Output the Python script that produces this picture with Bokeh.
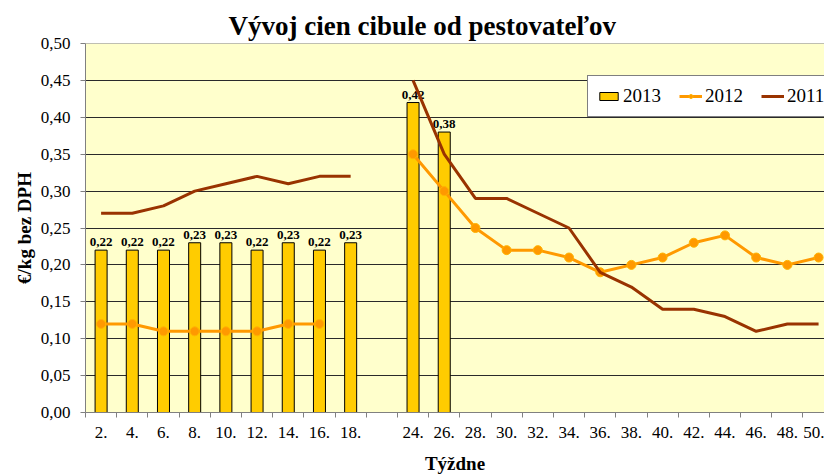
import numpy as np
from bokeh.plotting import figure
from bokeh.models import (ColumnDataSource, Range1d, FixedTicker, CustomJSTickFormatter,
                          Legend, LegendItem, Span)
from bokeh.embed import file_html
from bokeh.resources import INLINE
from bokeh.core.properties import value

# ---- data ----
weeks = ["2.", "4.", "6.", "8.", "10.", "12.", "14.", "16.", "18.", "",
         "24.", "26.", "28.", "30.", "32.", "34.", "36.", "38.", "40.", "42.",
         "44.", "46.", "48.", "50."]
y2013 = [0.22, 0.22, 0.22, 0.23, 0.23, 0.22, 0.23, 0.22, 0.23, None,
         0.42, 0.38, None, None, None, None, None, None, None, None,
         None, None, None, None]
y2012 = [0.12, 0.12, 0.11, 0.11, 0.11, 0.11, 0.12, 0.12, None, None,
         0.35, 0.30, 0.25, 0.22, 0.22, 0.21, 0.19, 0.20, 0.21, 0.23,
         0.24, 0.21, 0.20, 0.21]
y2011 = [0.27, 0.27, 0.28, 0.30, 0.31, 0.32, 0.31, 0.32, 0.32, None,
         0.45, 0.35, 0.29, 0.29, 0.27, 0.25, 0.19, 0.17, 0.14, 0.14,
         0.13, 0.11, 0.12, 0.12]
y_ticks = [0.00, 0.05, 0.10, 0.15, 0.20, 0.25, 0.30, 0.35, 0.40, 0.45, 0.50]

title_text = "Vývoj cien cibule od pestovateľov"
y_title = "€/kg bez DPH"
x_title = "Týždne"

SERIF = "Liberation Serif"

# ---- derived ----
pos = np.arange(len(weeks)) + 0.5
to_arr = lambda a: np.array([np.nan if v is None else v for v in a], dtype=float)

bar_idx = [i for i, v in enumerate(y2013) if v is not None]
bar_src = ColumnDataSource(dict(
    x=[pos[i] for i in bar_idx],
    top=[y2013[i] for i in bar_idx],
    lbl=[f"{y2013[i]:.2f}".replace(".", ",") for i in bar_idx],
))
src12 = ColumnDataSource(dict(x=pos, y=to_arr(y2012)))
src11 = ColumnDataSource(dict(x=pos, y=to_arr(y2011)))

p = figure(width=824, height=476,
           x_range=Range1d(0, 23.69), y_range=Range1d(0, 0.5),
           output_backend="svg", toolbar_location=None,
           min_border_left=85, min_border_right=0,
           min_border_top=43, min_border_bottom=64,
           background_fill_color="#FFFFCC", border_fill_color="white",
           outline_line_color=None)

p.title.text = title_text
p.title.text_font = SERIF
p.title.text_font_style = "bold"
p.title.text_font_size = "27px"
p.title.text_color = "black"
p.title.align = "left"
p.title.offset = 143
p.title.standoff = 5

bars = p.vbar(x="x", top="top", width=0.385, source=bar_src,
              fill_color="#FFCC00", line_color="black", line_width=1)
p.text(x="x", y="top", text="lbl", source=bar_src, text_align="center",
       text_baseline="bottom", y_offset=-4, text_font=value(SERIF),
       text_font_style="bold", text_font_size="13px", text_color="black")

l12 = p.line(x="x", y="y", source=src12, line_color="#FF9900", line_width=3)
s12 = p.scatter(x="x", y="y", source=src12, size=9, fill_color="#FF9900",
                line_color="#FFB300", line_width=1)
l11 = p.line(x="x", y="y", source=src11, line_color="#993300", line_width=3)

# ---- axes ----
yax = p.yaxis[0]
yax.ticker = FixedTicker(ticks=y_ticks)
yax.formatter = CustomJSTickFormatter(code="return tick.toFixed(2).replace('.', ',');")
yax.axis_line_color = "#808080"
yax.major_tick_line_color = "#808080"
yax.major_tick_out = 5
yax.major_tick_in = 0
yax.minor_tick_line_color = None
yax.major_label_standoff = 10
yax.major_label_text_font = SERIF
yax.major_label_text_font_size = "17px"
yax.major_label_text_color = "black"
yax.axis_label = y_title
yax.axis_label_text_font = SERIF
yax.axis_label_text_font_style = "bold"
yax.axis_label_text_font_size = "19px"
yax.axis_label_text_color = "black"
yax.axis_label_standoff = 3

xax = p.xaxis[0]
xax.ticker = FixedTicker(ticks=list(pos), minor_ticks=list(range(len(weeks) + 1)))
xax.formatter = CustomJSTickFormatter(args=dict(labels=weeks),
                                      code="return labels[Math.floor(tick)];")
xax.axis_line_color = "#808080"
xax.major_tick_line_color = None
xax.major_tick_out = 0
xax.major_tick_in = 0
xax.minor_tick_line_color = "#808080"
xax.minor_tick_out = 5
xax.minor_tick_in = 0
xax.major_label_standoff = 9
xax.major_label_text_font = SERIF
xax.major_label_text_font_size = "17px"
xax.major_label_text_color = "black"
xax.axis_label = x_title
xax.axis_label_text_font = SERIF
xax.axis_label_text_font_style = "bold"
xax.axis_label_text_font_size = "19px"
xax.axis_label_text_color = "black"
xax.axis_label_standoff = 12

p.xgrid.visible = False
p.ygrid.ticker = FixedTicker(ticks=y_ticks)
p.ygrid.grid_line_color = "#2a2a2a"
p.ygrid.grid_line_width = 1

p.add_layout(Span(location=0.5, dimension="width", line_color="#808080", line_width=1))

# ---- legend ----
legend = Legend(items=[LegendItem(label="2013", renderers=[bars]),
                       LegendItem(label="2012", renderers=[l12, s12]),
                       LegendItem(label="2011", renderers=[l11])],
                orientation="horizontal", location=(502, 295),
                label_text_font=SERIF, label_text_font_size="19px",
                label_text_color="black", glyph_width=23, glyph_height=10,
                label_standoff=3, spacing=18, padding=9, margin=0,
                label_height=22, border_line_color="black", border_line_width=1,
                background_fill_color="white", background_fill_alpha=1.0)
p.add_layout(legend)

open("out.html", "w").write(file_html(p, INLINE))
